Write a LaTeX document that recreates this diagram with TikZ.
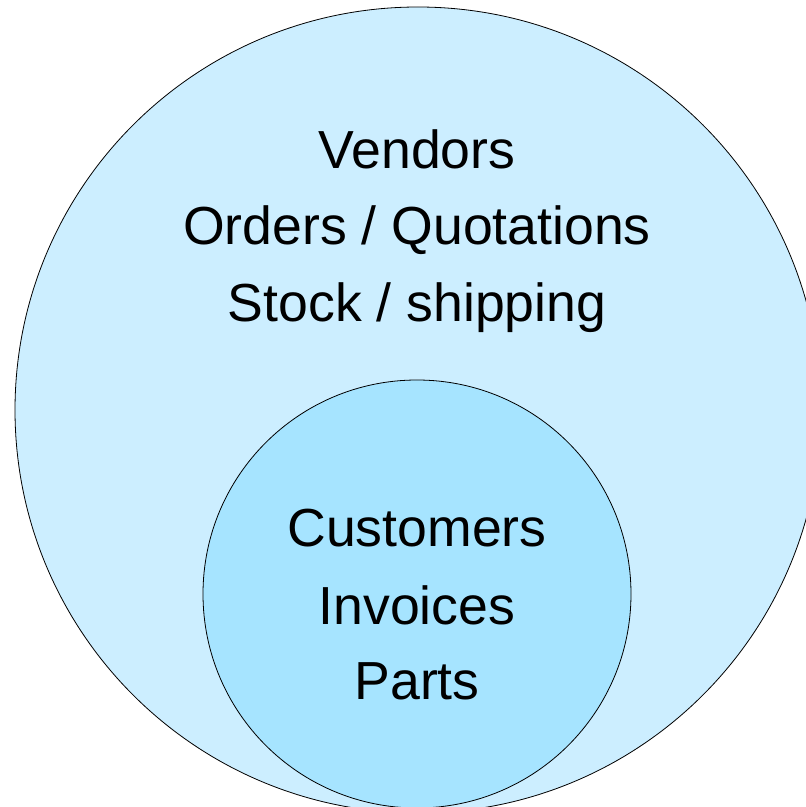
\documentclass[tikz,border=0pt]{standalone}
\usepackage{fontspec}
\setmainfont{Liberation Sans}
\definecolor{outerfill}{RGB}{204,238,255}
\definecolor{innerfill}{RGB}{166,228,255}
\begin{document}
\begin{tikzpicture}[x=1pt,y=1pt,
  ring/.style={draw=black,line width=0.8pt},
  lbl/.style={anchor=base,inner sep=0pt,font=\fontsize{53.6}{64}\selectfont}]
\useasboundingbox (0,0) rectangle (806,807);
\clip (0,0) rectangle (806,807);
\node[ring,circle,fill=outerfill,minimum size=806pt,inner sep=0pt] (outer) at (418,397) {};
\node[ring,circle,fill=innerfill,minimum size=428pt,inner sep=0pt] (inner) at (417,213) {};
\node[lbl] (vendors) at (417,638) {Vendors};
\node[lbl] (orders) at (417,562) {Orders / Quotations};
\node[lbl] (stock) at (417,485) {Stock / shipping};
\node[lbl] (customers) at (417,260) {Customers};
\node[lbl] (invoices) at (417,182) {Invoices};
\node[lbl] (parts) at (417,107) {Parts};
\end{tikzpicture}
\end{document}
